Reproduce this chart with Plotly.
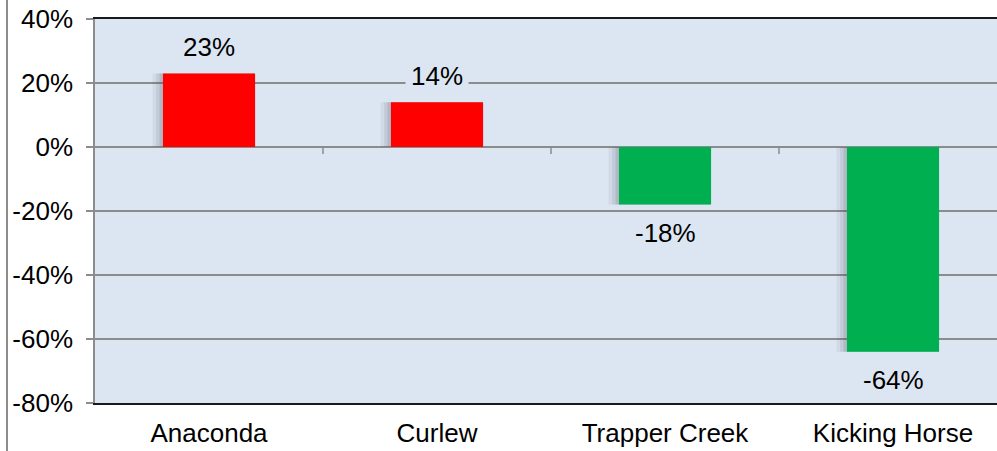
import plotly.graph_objects as go

categories = ["Anaconda", "Curlew", "Trapper Creek", "Kicking Horse"]
values = [23, 14, -18, -64]
bar_colors = ["#FF0000", "#FF0000", "#00B050", "#00B050"]
y_ticks = [40, 20, 0, -20, -40, -60, -80]
y_tick_labels = [f"{v}%" for v in y_ticks]

FONT = "Liberation Sans, Arial, sans-serif"
FS = 26
BG = "#DCE6F2"
GRID = "#8C8C8C"
BAR_W = 0.404

fig = go.Figure()

# soft shadow behind bars (layered, semi-transparent)
for extra, alpha in [(0.045, 0.08), (0.03, 0.10), (0.015, 0.14)]:
    fig.add_trace(go.Bar(
        x=list(range(len(categories))), y=values,
        marker=dict(color=f"rgba(80,80,95,{alpha})", line=dict(width=0)),
        width=BAR_W + extra, offset=-BAR_W / 2 - extra,
        hoverinfo="skip", showlegend=False,
    ))
fig.add_trace(go.Bar(
    x=list(range(len(categories))), y=values,
    marker=dict(color=bar_colors, line=dict(width=0)),
    width=BAR_W, showlegend=False,
))

for i, v in enumerate(values):
    fig.add_annotation(
        x=i, y=v, text=f"{v}%", showarrow=False,
        yshift=26 if v >= 0 else -28,
        font=dict(family=FONT, size=FS, color="#000000"),
        bgcolor=BG, borderpad=5,
    )

# small ticks on zero line between categories
for b in [0.5, 1.5, 2.5]:
    fig.add_shape(type="line", xref="x", yref="y", x0=b, x1=b,
                  ysizemode="pixel", yanchor=0, y0=0, y1=-7,
                  line=dict(color=GRID, width=1.5))

# left frame line of chart area
fig.add_shape(type="line", xref="paper", yref="paper",
              x0=-88 / 902, x1=-88 / 902, y0=-0.13, y1=1.06,
              line=dict(color="#8C8C8C", width=2))

fig.update_layout(
    width=997, height=451,
    margin=dict(l=95, r=0, t=19, b=48, autoexpand=False),
    paper_bgcolor="#FFFFFF", plot_bgcolor=BG,
    barmode="overlay",
    font=dict(family=FONT, size=FS, color="#000000"),
    xaxis=dict(
        tickmode="array", tickvals=list(range(len(categories))), ticktext=categories,
        range=[-0.5, -0.5 + 902 / 228], showgrid=False, zeroline=False,
        showline=True, linecolor="#1A1A1A", linewidth=2, mirror=True,
        ticks="", ticklabelstandoff=6, automargin=False,
        tickfont=dict(family=FONT, size=FS, color="#000000"),
    ),
    yaxis=dict(
        range=[-80, 40], tickmode="array", tickvals=y_ticks, ticktext=y_tick_labels,
        showgrid=True, gridcolor=GRID, gridwidth=1.5,
        zeroline=True, zerolinecolor=GRID, zerolinewidth=1.5,
        showline=True, linecolor=GRID, linewidth=1.5,
        ticks="outside", ticklen=7, tickcolor=GRID, tickwidth=1.5,
        ticklabelstandoff=8, automargin=False,
        tickfont=dict(family=FONT, size=FS, color="#000000"),
    ),
)

fig.write_html(
    "out.html",
    config={"displayModeBar": False},
    post_script="document.body.style.margin='0';document.body.style.overflow='hidden';",
)
